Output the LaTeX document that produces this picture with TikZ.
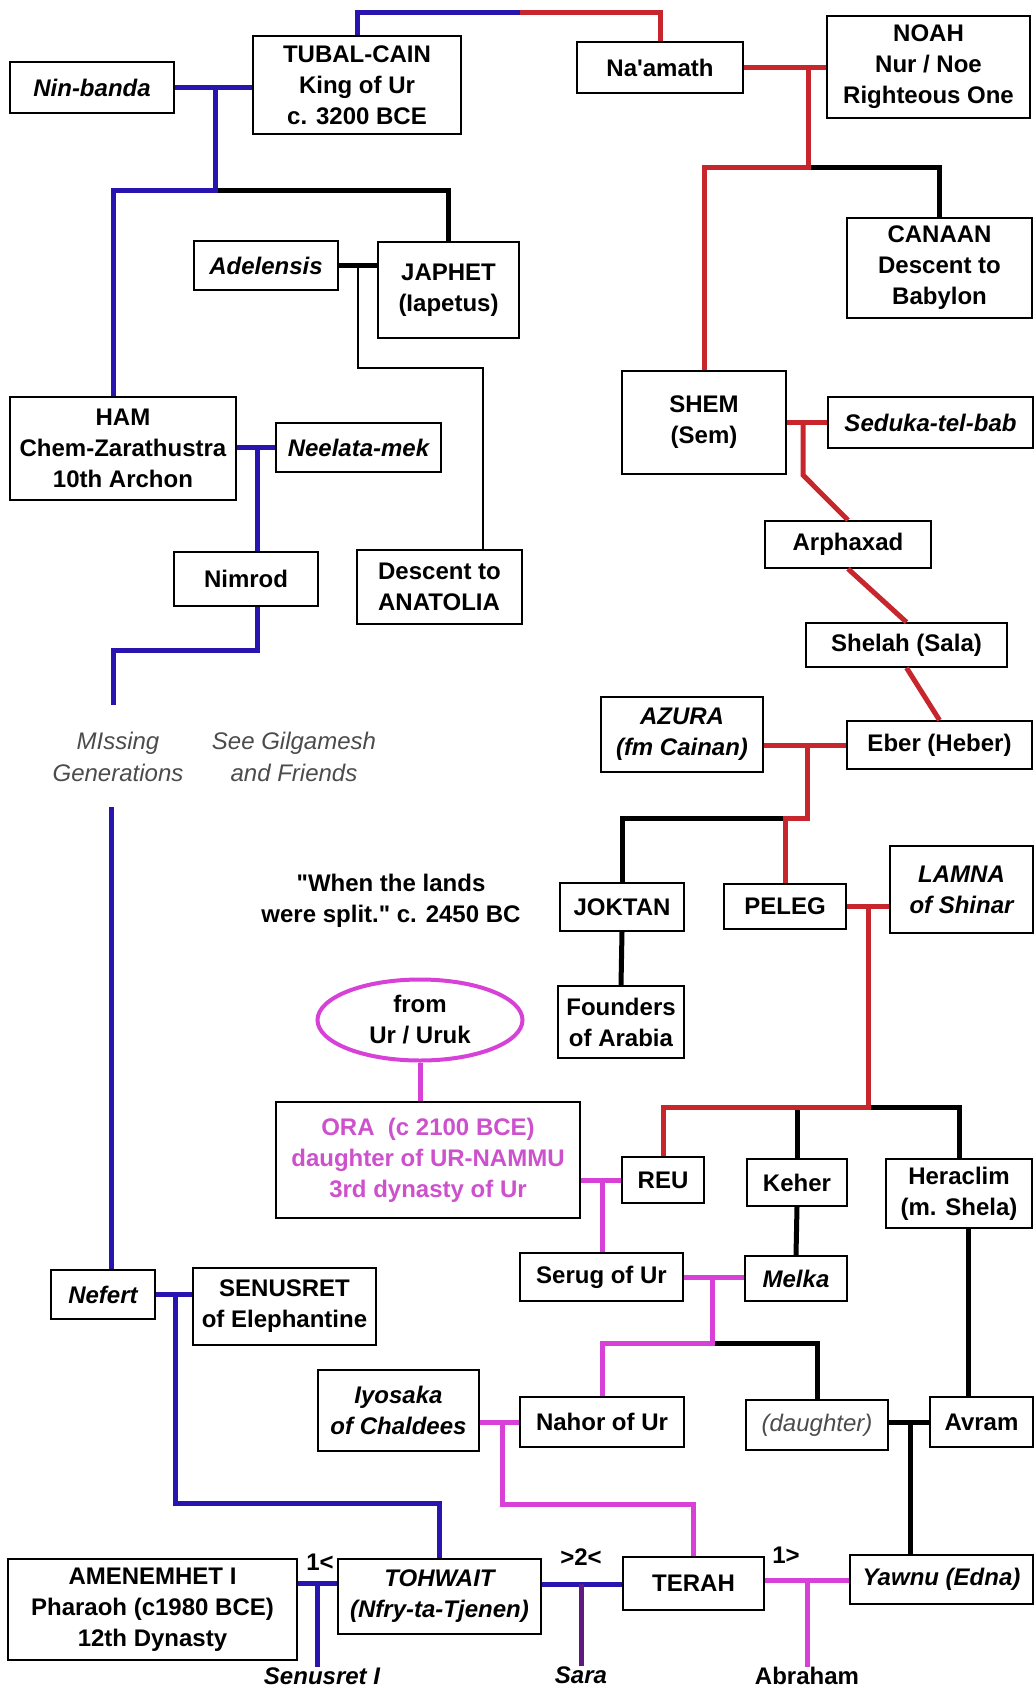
\documentclass[tikz,border=0pt]{standalone}
\usepackage{fontspec}
\setmainfont{Liberation Sans}
\usepackage{tikz}
\usetikzlibrary{shapes.geometric}
\definecolor{bluecol}{RGB}{40,20,175}
\definecolor{redcol}{RGB}{200,38,45}
\definecolor{magcol}{RGB}{215,65,215}
\definecolor{saracol}{RGB}{95,25,130}
\definecolor{oracol}{RGB}{205,80,205}
\definecolor{notecol}{RGB}{75,75,75}
\newcommand{\bxfont}{\fontsize{24}{31}\selectfont}

\begin{document}
\begin{tikzpicture}[x=1pt,y=-1pt]
	\tikzstyle{every node}+=[inner sep=0pt, align=center, font=\bxfont\bfseries]
	\tikzstyle{box}=[draw=black, line width=1.6pt]
	\tikzstyle{wbox}=[box, font=\bxfont\bfseries\itshape]
	\tikzstyle{dbox}=[box, font=\bxfont\itshape, text=notecol]
	\tikzstyle{note}=[font=\fontsize{24}{32}\selectfont\itshape, text=notecol]
	\tikzstyle{ilbl}=[font=\bxfont\bfseries\itshape]
	\tikzstyle{blueline}=[bluecol, line width=5pt]
	\tikzstyle{redline}=[redcol, line width=5pt]
	\tikzstyle{magline}=[magcol, line width=5pt]
	\tikzstyle{saraline}=[saracol, line width=5pt]
	\tikzstyle{blackline}=[black, line width=5pt]
	\tikzstyle{thinline}=[black, line width=1.5pt]
	\useasboundingbox (0,0) rectangle (1035,1691);

	\node [box, minimum width=208, minimum height=98] (tubal) at (357,85) {TUBAL-CAIN\\King of Ur\\c. 3200 BCE};
	\node [wbox, minimum width=164, minimum height=51] (ninbanda) at (92,87.5) {Nin-banda};
	\node [box, minimum width=166, minimum height=51] (naamath) at (660,67.5) {Na\textquotesingle amath};
	\node [box, minimum width=203, minimum height=102] (noah) at (928.5,67) {NOAH\\Nur / Noe\\Righteous One};
	\node [wbox, minimum width=144, minimum height=49] (adelensis) at (266,265.5) {Adelensis};
	\node [box, minimum width=141, minimum height=96] (japhet) at (448.5,290) {JAPHET\\(Iapetus)};
	\node [box, minimum width=185, minimum height=100] (canaan) at (939.5,268) {CANAAN\\Descent to\\Babylon};
	\node [box, minimum width=226, minimum height=103] (ham) at (123,448.5) {HAM\\Chem-Zarathustra\\10th Archon};
	\node [wbox, minimum width=165, minimum height=49] (neelata) at (358.5,447.5) {Neelata-mek};
	\node [box, minimum width=164, minimum height=103] (shem) at (704,422.5) {SHEM\\(Sem)};
	\node [wbox, minimum width=205, minimum height=51] (seduka) at (930.5,422.5) {Seduka-tel-bab};
	\node [box, minimum width=144, minimum height=54] (nimrod) at (246,579) {Nimrod};
	\node [box, minimum width=165, minimum height=74, align=left] (anatolia) at (439.5,587) {Descent to\\ANATOLIA};
	\node [box, minimum width=166, minimum height=47] (arphaxad) at (848,544.5) {Arphaxad};
	\node [box, minimum width=201, minimum height=44] (shelah) at (906.5,645) {Shelah (Sala)};
	\node [wbox, minimum width=162, minimum height=75] (azura) at (682,734.5) {AZURA\\(fm Cainan)};
	\node [box, minimum width=185, minimum height=48] (eber) at (939.5,745) {Eber (Heber)};
	\node [note] (missing) at (118,757) {MIssing\\Generations};
	\node [note] (gilgamesh) at (294,757) {See Gilgamesh\\and Friends};
	\node (lands) at (391,901) {\textquotedbl When the lands\\were split.\textquotedbl\ c. 2450 BC};
	\node [box, minimum width=124, minimum height=48] (joktan) at (622,907) {JOKTAN};
	\node [box, minimum width=122, minimum height=45] (peleg) at (785,906.5) {PELEG};
	\node [wbox, minimum width=143, minimum height=87] (lamna) at (961.5,889.5) {LAMNA\\of Shinar};
	\node [box, minimum width=126, minimum height=72] (founders) at (621,1022) {Founders\\of Arabia};
	\node [ellipse, draw=magcol, line width=4pt, minimum width=205, minimum height=81] (fromur) at (420,1020) {from\\Ur / Uruk};
	\node [box, text=oracol, minimum width=304, minimum height=116] (ora) at (428,1160) {ORA\ \ (c 2100 BCE)\\daughter of UR-NAMMU\\3rd dynasty of Ur};
	\node [box, minimum width=82, minimum height=46] (reu) at (663,1180) {REU};
	\node [box, minimum width=100, minimum height=47] (keher) at (797,1182.5) {Keher};
	\node [box, minimum width=146, minimum height=69] (heraclim) at (959,1193.5) {Heraclim\\(m. Shela)};
	\node [wbox, minimum width=104, minimum height=49] (nefert) at (103,1294.5) {Nefert};
	\node [box, minimum width=183, minimum height=77] (senusret) at (284.5,1306.5) {SENUSRET\\of Elephantine};
	\node [box, minimum width=163, minimum height=48] (serug) at (601.5,1277) {Serug of Ur};
	\node [wbox, minimum width=102, minimum height=45] (melka) at (796,1278.5) {Melka};
	\node [wbox, minimum width=161, minimum height=81] (iyosaka) at (398.5,1410.5) {Iyosaka\\of Chaldees};
	\node [box, minimum width=164, minimum height=50] (nahor) at (602,1422) {Nahor of Ur};
	\node [dbox, minimum width=142, minimum height=50] (daughter) at (817,1425) {(daughter)};
	\node [box, minimum width=103, minimum height=50] (avram) at (981.5,1422) {Avram};
	\node [box, minimum width=289, minimum height=101] (amenemhet) at (152.5,1609.5) {AMENEMHET I\\Pharaoh (c1980 BCE)\\12th Dynasty};
	\node [wbox, minimum width=203, minimum height=75] (tohwait) at (439.5,1596.5) {TOHWAIT\\(Nfry-ta-Tjenen)};
	\node [box, minimum width=141, minimum height=53] (terah) at (693.5,1583.5) {TERAH};
	\node [wbox, minimum width=183, minimum height=49] (yawnu) at (941.5,1579.5) {Yawnu (Edna)};
	\node [ilbl] (senusretI) at (322,1676) {Senusret I};
	\node [ilbl] (sara) at (581,1675) {Sara};
	\node (abraham) at (807,1676) {Abraham};
	\node (firstA) at (320,1562) {1<};
	\node (second) at (581,1557) {>2<};
	\node (firstB) at (786,1555) {1>};

	\coordinate (ntj) at (215,87.5);
	\coordinate (hamsplit) at (215,190);
	\coordinate (topbend) at (520,13);
	\coordinate (noahj) at (808,67);
	\coordinate (noahsplit) at (808,167);
	\coordinate (adj) at (358,265.5);
	\coordinate (anabend) at (483,368);
	\coordinate (hamj) at (257,447.5);
	\coordinate (shemj) at (803,422.5);
	\coordinate (eberj) at (807,745);
	\coordinate (pelegsplit) at (785,818);
	\coordinate (lamnaj) at (868,906.5);
	\coordinate (reusplit) at (868,1107);
	\coordinate (missup) at (113,705);
	\coordinate (missdown) at (111,807);
	\coordinate (reuj) at (602,1180);
	\coordinate (melkaj) at (712,1277);
	\coordinate (nahorsplit) at (712,1343);
	\coordinate (nahorj) at (502,1422);
	\coordinate (daughterj) at (910,1422);
	\coordinate (nefertj) at (175,1294.5);
	\coordinate (amenj) at (317,1583);
	\coordinate (terahj) at (581,1584);
	\coordinate (yawnuj) at (807,1580);

	\draw [blueline] (tubal.north) |- (topbend);
	\draw [redline] (topbend) -| (naamath.north);
	\draw [blueline] (ninbanda.east) -- (ninbanda.east -| tubal.west);
	\draw [blackline] (hamsplit) -| (japhet.north);
	\draw [blueline] (ntj) -- (hamsplit) -| ([xshift=-10pt]ham.north);
	\draw [redline] (naamath.east) -- (naamath.east -| noah.west);
	\draw [blackline] (noahsplit) -| (canaan.north);
	\draw [redline] (noahj) -- (noahsplit) -| (shem.north);
	\draw [blackline] (adelensis.east) -- (adelensis.east -| japhet.west);
	\draw [thinline] (adj) |- (anabend) -- (anabend |- anatolia.north);
	\draw [blueline] (ham.east |- neelata.west) -- (neelata.west);
	\draw [blueline] (hamj) -- (hamj |- nimrod.north);
	\draw [blueline] (hamj |- nimrod.south) -- ++(0,44) -| (missup);
	\draw [blueline] (missdown) -- (missdown |- nefert.north);
	\draw [redline] (shem.east) -- (seduka.west);
	\draw [redline] (shemj) -- ++(0,52.5) -- (arphaxad.north);
	\draw [redline] (arphaxad.south) -- (shelah.north);
	\draw [redline] (shelah.south) -- (eber.north);
	\draw [redline] (azura.east |- eber.west) -- (eber.west);
	\draw [blackline] (pelegsplit) -| (joktan.north);
	\draw [redline] (eberj) |- (pelegsplit) -- (peleg.north);
	\draw [blackline] (joktan.south) -- (founders.north);
	\draw [redline] (peleg.east) -- (peleg.east -| lamna.west);
	\draw [blackline] (reusplit) -| (heraclim.north);
	\draw [blackline] (keher.north |- reusplit) -- (keher.north);
	\draw [redline] (lamnaj) -- (reusplit) -| (reu.north);
	\draw [magline] (fromur.south) -- (fromur.south |- ora.north);
	\draw [magline] (ora.east |- reu.west) -- (reu.west);
	\draw [magline] (reuj) -- (reuj |- serug.north);
	\draw [blackline] (keher.south) -- (melka.north);
	\draw [magline] (serug.east) -- (serug.east -| melka.west);
	\draw [blackline] (nahorsplit) -| (daughter.north);
	\draw [magline] (melkaj) -- (nahorsplit) -| (nahor.north);
	\draw [magline] (iyosaka.east |- nahor.west) -- (nahor.west);
	\draw [magline] (nahorj) -- ++(0,82) -| (terah.north);
	\draw [blackline] ([xshift=9pt]heraclim.south) -- ([xshift=-13.5pt]avram.north);
	\draw [blackline] (daughter.east |- avram.west) -- (avram.west);
	\draw [blackline] (daughterj) -- (daughterj |- yawnu.north);
	\draw [blueline] (nefert.east) -- (nefert.east -| senusret.west);
	\draw [blueline] (nefertj) -- ++(0,208.5) -| (tohwait.north);
	\draw [blueline] (amenemhet.east |- amenj) -- (tohwait.west |- amenj);
	\draw [blueline] (amenj) -- (amenj |- senusretI.north);
	\draw [blueline] (tohwait.east |- terahj) -- (terah.west |- terahj);
	\draw [saraline] (terahj) -- (terahj |- sara.north);
	\draw [magline] (terah.east |- yawnuj) -- (yawnu.west |- yawnuj);
	\draw [magline] (yawnuj) -- (yawnuj |- abraham.north);
\end{tikzpicture}
\end{document}
